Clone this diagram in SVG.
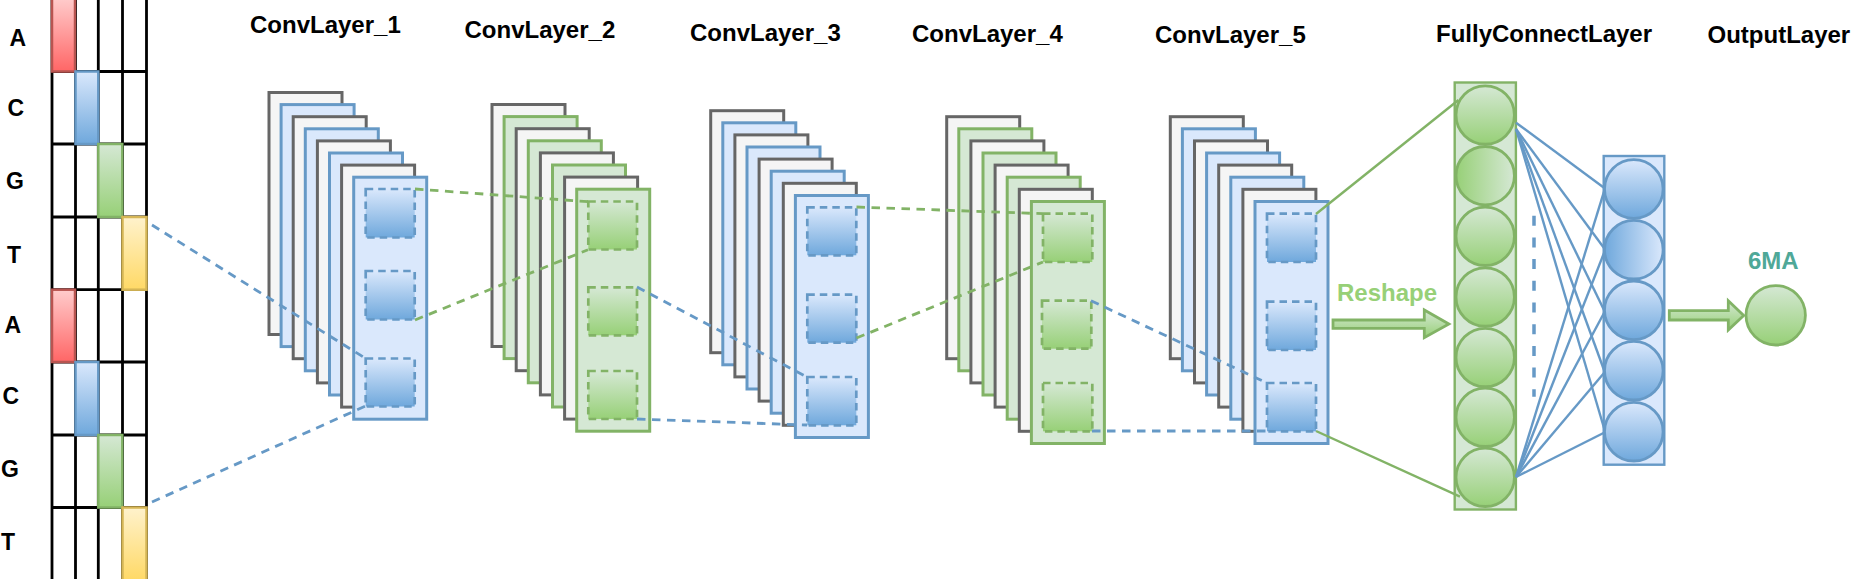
<svg xmlns="http://www.w3.org/2000/svg" width="1856" height="579" viewBox="0 0 1856 579">
<style>
text{font-family:"Liberation Sans",Arial,sans-serif;font-weight:bold;fill:#000}
.t{font-size:24px}
.b{font-size:23px}
.grid{fill:none;stroke:#000;stroke-width:2.8}
.g{fill:#f5f5f5;stroke:#666;stroke-width:3}
.bl{fill:#dae8fc;stroke:#6699c6;stroke-width:3}
.gr{fill:#d5e8d4;stroke:#82b366;stroke-width:3}
.sb{fill:url(#gb);stroke:#6699c6;stroke-width:2.7;stroke-dasharray:7.5 5}
.sg{fill:url(#gg);stroke:#82b366;stroke-width:2.7;stroke-dasharray:7.5 5}
.cg{fill:url(#gg);stroke:#82b366;stroke-width:2.8}
.cb{fill:url(#gb);stroke:#6699c6;stroke-width:2.8}
.db{fill:none;stroke:#6699c6;stroke-width:2.8;stroke-dasharray:8.5 6.5}
.dg{fill:none;stroke:#82b366;stroke-width:2.8;stroke-dasharray:8.5 6.5}
.sl{fill:none;stroke:#6699c6;stroke-width:2.4}
.sgl{fill:none;stroke:#82b366;stroke-width:2.4}
.ar{fill:url(#ga);stroke:#82b366;stroke-width:2.8}
</style>
<defs>
<linearGradient id="gr" x1="0" y1="0" x2="0" y2="1"><stop offset="0" stop-color="#ffcccc"/><stop offset="1" stop-color="#ff6666"/></linearGradient>
<linearGradient id="gb" x1="0" y1="0" x2="0" y2="1"><stop offset="0" stop-color="#dae8fc"/><stop offset="1" stop-color="#6fa8dc"/></linearGradient>
<linearGradient id="gg" x1="0" y1="0" x2="0" y2="1"><stop offset="0" stop-color="#d5e8d4"/><stop offset="1" stop-color="#97d077"/></linearGradient>
<linearGradient id="gy" x1="0" y1="0" x2="0" y2="1"><stop offset="0" stop-color="#fff2cc"/><stop offset="1" stop-color="#ffd966"/></linearGradient>
<linearGradient id="ga" x1="0" y1="0" x2="0" y2="1"><stop offset="0" stop-color="#d5e8d4"/><stop offset="1" stop-color="#97d077"/></linearGradient>
<linearGradient id="gghz" x1="1" y1="0" x2="0" y2="0"><stop offset="0" stop-color="#d5e8d4"/><stop offset="1" stop-color="#97d077"/></linearGradient>
<linearGradient id="gbhz" x1="1" y1="0" x2="0" y2="0"><stop offset="0" stop-color="#dae8fc"/><stop offset="1" stop-color="#6fa8dc"/></linearGradient>
</defs>
<rect width="1856" height="579" fill="#fff"/>

<g id="titles">
<text class="t" x="250" y="33">ConvLayer_1</text>
<text class="t" x="464.5" y="38.3">ConvLayer_2</text>
<text class="t" x="690" y="40.7">ConvLayer_3</text>
<text class="t" x="912" y="41.7">ConvLayer_4</text>
<text class="t" x="1155" y="42.7">ConvLayer_5</text>
<text class="t" x="1436" y="42.3">FullyConnectLayer</text>
<text class="t" x="1707.5" y="43.3">OutputLayer</text>
</g>

<g id="sequence">
<path class="grid" d="M52-2V579M75.5-2V579M98.3-2V579M122.5-2V579M146.5-2V579M52 71.5H146.5M52 144H146.5M52 217H146.5M52 289.7H146.5M52 362H146.5M52 435H146.5M52 507.5H146.5"/>
<rect x="52" y="-2" width="23" height="73.5" fill="url(#gr)" stroke="#b85450" stroke-width="2.5"/>
<rect x="75.5" y="71.5" width="22.8" height="72.5" fill="url(#gb)" stroke="#6699c6" stroke-width="2.5"/>
<rect x="98.3" y="144" width="24" height="73" fill="url(#gg)" stroke="#82b366" stroke-width="2.5"/>
<rect x="122.5" y="217" width="24" height="72.7" fill="url(#gy)" stroke="#d6b656" stroke-width="2.5"/>
<rect x="52" y="289.7" width="23" height="72.3" fill="url(#gr)" stroke="#b85450" stroke-width="2.5"/>
<rect x="75.5" y="362" width="22.8" height="73" fill="url(#gb)" stroke="#6699c6" stroke-width="2.5"/>
<rect x="98.3" y="435" width="24" height="72.5" fill="url(#gg)" stroke="#82b366" stroke-width="2.5"/>
<rect x="122.5" y="507.5" width="24" height="73" fill="url(#gy)" stroke="#d6b656" stroke-width="2.5"/>
<text class="b" x="9.5" y="45.7">A</text>
<text class="b" x="7.5" y="116">C</text>
<text class="b" x="6" y="189">G</text>
<text class="b" x="7" y="262.7">T</text>
<text class="b" x="4.5" y="333">A</text>
<text class="b" x="2.5" y="404">C</text>
<text class="b" x="1" y="476.7">G</text>
<text class="b" x="1" y="550">T</text>
</g>

<g id="conv1">
<rect class="g" x="269" y="92.5" width="73" height="242"/>
<rect class="bl" x="281.1" y="104.6" width="73" height="242"/>
<rect class="g" x="293.2" y="116.7" width="73" height="242"/>
<rect class="bl" x="305.3" y="128.8" width="73" height="242"/>
<rect class="g" x="317.4" y="140.9" width="73" height="242"/>
<rect class="bl" x="329.5" y="153" width="73" height="242"/>
<rect class="g" x="341.6" y="165.1" width="73" height="242"/>
<rect class="bl" x="353.7" y="177.2" width="73" height="242"/>
<rect class="sb" x="365.7" y="189" width="49" height="48.5"/>
<rect class="sb" x="365.7" y="271" width="49" height="48.5"/>
<rect class="sb" x="365.7" y="358.5" width="49" height="48"/>
</g>

<g id="conv2">
<rect class="g" x="492" y="104.5" width="73" height="242"/>
<rect class="gr" x="504.1" y="116.6" width="73" height="242"/>
<rect class="g" x="516.2" y="128.7" width="73" height="242"/>
<rect class="gr" x="528.3" y="140.8" width="73" height="242"/>
<rect class="g" x="540.4" y="152.9" width="73" height="242"/>
<rect class="gr" x="552.5" y="165" width="73" height="242"/>
<rect class="g" x="564.6" y="177.1" width="73" height="242"/>
<rect class="gr" x="576.7" y="189.2" width="73" height="242"/>
<rect class="sg" x="588.3" y="201.5" width="48.7" height="48"/>
<rect class="sg" x="588.3" y="287.3" width="48.7" height="48"/>
<rect class="sg" x="588.3" y="371" width="48.7" height="48"/>
</g>

<g id="conv3">
<rect class="g" x="710.7" y="110.7" width="73" height="242"/>
<rect class="bl" x="722.8" y="122.8" width="73" height="242"/>
<rect class="g" x="734.9" y="134.9" width="73" height="242"/>
<rect class="bl" x="747" y="147" width="73" height="242"/>
<rect class="g" x="759.1" y="159.1" width="73" height="242"/>
<rect class="bl" x="771.2" y="171.2" width="73" height="242"/>
<rect class="g" x="783.3" y="183.3" width="73" height="242"/>
<rect class="bl" x="795.4" y="195.5" width="73" height="242"/>
<rect class="sb" x="807.3" y="207.3" width="49" height="48"/>
<rect class="sb" x="807.3" y="294.7" width="49" height="48"/>
<rect class="sb" x="807.3" y="377" width="49" height="48.3"/>
</g>

<g id="conv4">
<rect class="g" x="946.7" y="116.7" width="73" height="242"/>
<rect class="gr" x="958.8" y="128.8" width="73" height="242"/>
<rect class="g" x="970.9" y="140.9" width="73" height="242"/>
<rect class="gr" x="983" y="153" width="73" height="242"/>
<rect class="g" x="995.1" y="165.1" width="73" height="242"/>
<rect class="gr" x="1007.2" y="177.2" width="73" height="242"/>
<rect class="g" x="1019.3" y="189.3" width="73" height="242"/>
<rect class="gr" x="1031.4" y="201.5" width="73" height="242"/>
<rect class="sg" x="1043" y="213.7" width="49.3" height="48.3"/>
<rect class="sg" x="1042" y="300.7" width="49.3" height="48"/>
<rect class="sg" x="1043" y="383" width="49.3" height="48.3"/>
</g>

<g id="conv5">
<rect class="g" x="1170.3" y="116.7" width="73" height="242"/>
<rect class="bl" x="1182.4" y="128.8" width="73" height="242"/>
<rect class="g" x="1194.5" y="140.9" width="73" height="242"/>
<rect class="bl" x="1206.6" y="153" width="73" height="242"/>
<rect class="g" x="1218.7" y="165.1" width="73" height="242"/>
<rect class="bl" x="1230.8" y="177.2" width="73" height="242"/>
<rect class="g" x="1242.9" y="189.3" width="73" height="242"/>
<rect class="bl" x="1255" y="201.5" width="73" height="242"/>
<rect class="sb" x="1267" y="213.7" width="49" height="48.3"/>
<rect class="sb" x="1267" y="301.7" width="49" height="48.3"/>
<rect class="sb" x="1267" y="383" width="49" height="48.3"/>
</g>

<g id="fc">
<rect x="1454.7" y="82.5" width="61.2" height="427" fill="#d5e8d4" stroke="#82b366" stroke-width="2.4"/>
<circle class="cg" cx="1485.2" cy="115" r="29.2"/>
<circle cx="1485.2" cy="175.7" r="29.2" fill="url(#gghz)" stroke="#82b366" stroke-width="2.8"/>
<circle class="cg" cx="1485.2" cy="236.3" r="29.2"/>
<circle class="cg" cx="1485.2" cy="297" r="29.2"/>
<circle class="cg" cx="1485.2" cy="357.5" r="29.2"/>
<circle class="cg" cx="1485.2" cy="417.3" r="29.2"/>
<circle class="cg" cx="1485.2" cy="477.3" r="29.2"/>
</g>

<g id="output">
<rect x="1603.7" y="156" width="60.6" height="308.7" fill="#dae8fc" stroke="#6699c6" stroke-width="2.4"/>
<circle class="cb" cx="1633.8" cy="189" r="29.3"/>
<circle cx="1633.8" cy="249.7" r="29.3" fill="url(#gbhz)" stroke="#6699c6" stroke-width="2.8"/>
<circle class="cb" cx="1633.8" cy="310.3" r="29.3"/>
<circle class="cb" cx="1633.8" cy="370.7" r="29.3"/>
<circle class="cb" cx="1633.8" cy="431.7" r="29.3"/>
</g>

<g id="result">
<circle class="cg" cx="1775.7" cy="315.3" r="29.7"/>
<text x="1773.3" y="269.3" text-anchor="middle" style="font-size:24px;fill:#4fa898">6MA</text>
</g>

<g id="reshape">
<path class="ar" d="M1333 320H1424.3V310L1448.9 324L1424.3 337.7V328.3H1333Z"/>
<text x="1337" y="300.7" style="font-size:24px;fill:#97d077">Reshape</text>
</g>

<g id="out-arrow">
<path class="ar" d="M1669.3 310.7H1728.3V300.7L1743.7 315.5L1728.3 330V320H1669.3Z"/>
</g>

<g id="connectors">
<path class="db" d="M152 225L366 358.7"/>
<path class="db" d="M152 502L370 404"/>
<path class="dg" d="M415 189L588 201.7"/>
<path class="dg" d="M415 320L588 249.7"/>
<path class="db" d="M637 287L807 377"/>
<path class="db" d="M637 419L807 425"/>
<path class="dg" d="M856.5 207L1043 213.7"/>
<path class="dg" d="M856.5 338L1043 262"/>
<path class="db" d="M1091 300.7L1267 383"/>
<path class="db" d="M1092 431H1267"/>
<path class="sgl" d="M1316 214L1458.5 100"/>
<path class="sgl" d="M1316 431L1460 496.7"/>
<path class="sl" d="M1516 122.7L1604 187.7"/>
<path class="sl" d="M1516 129L1604 248"/>
<path class="sl" d="M1516 129L1604 310"/>
<path class="sl" d="M1516 129L1604 370"/>
<path class="sl" d="M1516 129L1604 428"/>
<path class="sl" d="M1516 477L1604 432.7"/>
<path class="sl" d="M1516 477L1604 373"/>
<path class="sl" d="M1516 477L1604 313"/>
<path class="sl" d="M1516 477L1604 253"/>
<path class="sl" d="M1516 477L1604 191.7"/>
<path d="M1534 215.7V396.7" fill="none" stroke="#6699c6" stroke-width="3.5" stroke-dasharray="10 11.7"/>
</g>
</svg>
